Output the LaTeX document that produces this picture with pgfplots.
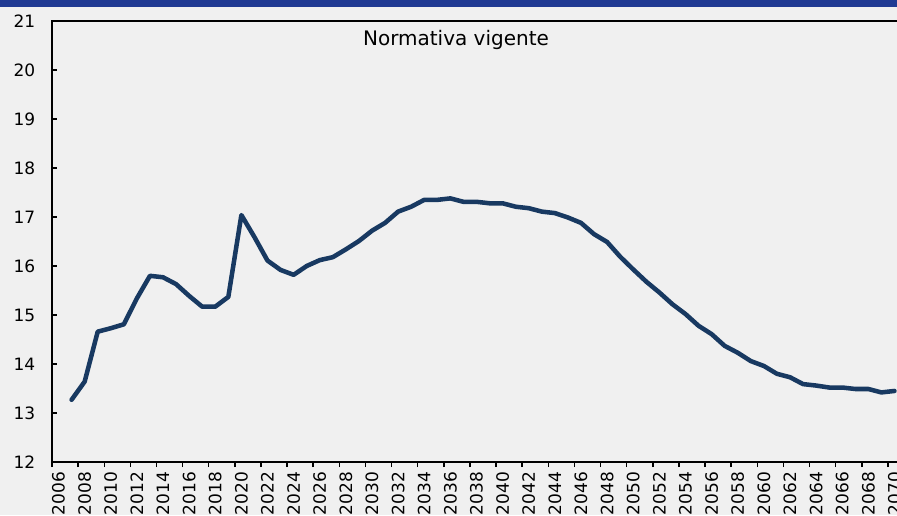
\documentclass[border=0pt]{standalone}
\usepackage{fontspec}
\setmainfont{DejaVu Sans}
\usepackage{pgfplots}
\pgfplotsset{compat=1.18}
\definecolor{bgc}{RGB}{240,240,240}
\definecolor{stripe}{RGB}{32,58,147}
\definecolor{navy}{RGB}{24,57,97}
\begin{document}
\begin{tikzpicture}
% 1 px = 0.75pt; axis box lower-left at origin
\useasboundingbox (-39pt,-39.75pt) rectangle (633.75pt,346.5pt);
\fill[bgc] (-39pt,-39.75pt) rectangle (633.75pt,346.5pt);
\fill[stripe] (-39pt,341.25pt) rectangle (633.75pt,346.5pt);
\clip (-39pt,-39.75pt) rectangle (633.75pt,346.5pt);
\begin{axis}[
    at={(0,0)}, anchor=south west,
    scale only axis,
    width=636.75pt, height=330.75pt,
    xmin=2005.5, xmax=2070.5,
    ymin=12, ymax=21,
    ytick={12,13,...,21},
    xtick={2005.5,2007.5,...,2069.5},
    xticklabels={2006,2008,2010,2012,2014,2016,2018,2020,2022,2024,2026,2028,2030,2032,2034,2036,2038,2040,2042,2044,2046,2048,2050,2052,2054,2056,2058,2060,2062,2064,2066,2068,2070},
    tick pos=left,
    tick align=inside,
    major tick length=3.75pt,
    axis line style={line width=1.1pt},
    every tick/.style={black, line width=1.1pt},
    x tick style={yshift=-3.75pt},
    /pgf/number format/assume math mode=true,
    y tick label style={font=\fontsize{12.75}{14}\selectfont, xshift=-9pt},
    x tick label style={font=\fontsize{12.75}{14}\selectfont, xshift=4.9pt, yshift=-4pt, rotate=90, anchor=east},
    clip=false,
]
\addplot[navy, line width=3.4pt, line join=round, line cap=round] coordinates {
(2007,13.27) (2008,13.64) (2009,14.66) (2010,14.73) (2011,14.81) (2012,15.34)
(2013,15.80) (2014,15.77) (2015,15.63) (2016,15.39) (2017,15.17) (2018,15.17)
(2019,15.37) (2020,17.04) (2021,16.59) (2022,16.11) (2023,15.92) (2024,15.82)
(2025,16.00) (2026,16.12) (2027,16.18) (2028,16.34) (2029,16.51) (2030,16.72)
(2031,16.88) (2032,17.11) (2033,17.21) (2034,17.35) (2035,17.35) (2036,17.38)
(2037,17.31) (2038,17.31) (2039,17.28) (2040,17.28) (2041,17.21) (2042,17.18)
(2043,17.11) (2044,17.08) (2045,16.99) (2046,16.88) (2047,16.65) (2048,16.49)
(2049,16.19) (2050,15.93) (2051,15.68) (2052,15.46) (2053,15.22) (2054,15.02)
(2055,14.78) (2056,14.61) (2057,14.37) (2058,14.23) (2059,14.06) (2060,13.96)
(2061,13.80) (2062,13.73) (2063,13.59) (2064,13.56) (2065,13.52) (2066,13.52)
(2067,13.49) (2068,13.49) (2069,13.42) (2070,13.45)
};
\end{axis}
\node[font=\fontsize{15}{17}\selectfont] at (303pt,316.5pt) {Normativa vigente};
\end{tikzpicture}
\end{document}
